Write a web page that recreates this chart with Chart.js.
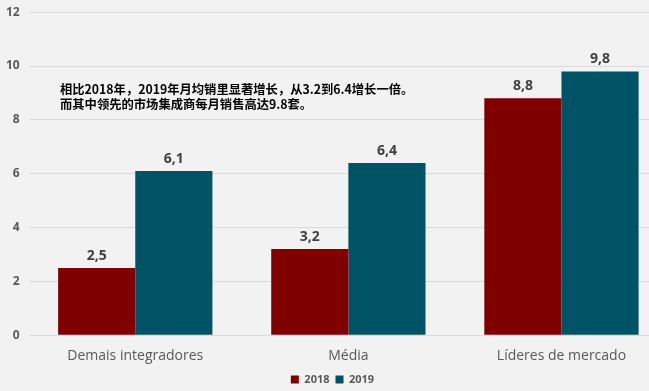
<!DOCTYPE html>
<html>
<head>
<meta charset="utf-8">
<script src="https://cdn.jsdelivr.net/npm/chart.js@4"></script>
<style>
  html, body { margin: 0; padding: 0; background: #f2f2f2; overflow: hidden; height: 391px; }
  #wrap { width: 668px; height: 399px; margin-top: -4px; }
</style>
</head>
<body>
<div id="wrap"><canvas id="myChart"></canvas></div>
<script>
const categories = ['Demais integradores', 'Média', 'Líderes de mercado'];
const values2018 = [2.5, 3.2, 8.8];
const values2019 = [6.1, 6.4, 9.8];
const yTicks = [0, 2, 4, 6, 8, 10, 12];
const note = [
    '相比2018年，2019年月均销里显著增长，从3.2到6.4增长一倍。',
    '而其中领先的市场集成商每月销售高达9.8套。'
];

const labelsPlugin = { // value labels + the note
    id: 'labelsPlugin',
    afterDatasetsDraw(chart) {
        const c = chart.ctx;
        c.save();
        c.font = 'bold 14px "Open Sans", sans-serif';
        c.fillStyle = '#404040';
        c.textAlign = 'center';
        c.textBaseline = 'bottom';
        chart.data.datasets.forEach((ds, i) => {
            chart.getDatasetMeta(i).data.forEach((bar, j) => {
                c.fillText(String(ds.data[j]).replace('.', ','), bar.x, bar.y - 5);
            });
        });
        c.font = 'bold 12.3px "Noto Sans CJK SC", sans-serif';
        c.fillStyle = '#000';
        c.textAlign = 'left';
        c.textBaseline = 'middle';
        note.forEach((t, k) => c.fillText(t, 60, 93 + k * 15));
        c.restore();
    }
};

const ctx = document.getElementById('myChart');
new Chart(ctx, {
    type: 'bar',
    data: {
        labels: categories,
        datasets: [
            { label: '2018', data: values2018, backgroundColor: '#7f0000' },
            { label: '2019', data: values2019, backgroundColor: '#005365' }
        ]
    },
    options: {
        responsive: true,
        maintainAspectRatio: false,
        animation: false,
        layout: { padding: { top: 0, right: 0, left: -3, bottom: 0 } },
        datasets: { bar: { barPercentage: 1, categoryPercentage: 0.724 } },
        scales: {
            x: {
                grid: { display: false },
                border: { display: false },
                ticks: { color: '#595959', font: { size: 14, family: '"Open Sans", sans-serif' }, padding: 4 }
            },
            y: {
                min: 0, max: 12,
                afterBuildTicks: (axis) => { axis.ticks = yTicks.map(v => ({ value: v })); },
                grid: { color: '#d9d9d9', drawTicks: false },
                border: { display: false },
                ticks: { color: '#595959', font: { size: 12, weight: 'bold', family: '"Open Sans", sans-serif' }, padding: 9 }
            }
        },
        plugins: {
            legend: {
                position: 'bottom',
                align: 'center',
                labels: {
                    boxWidth: 8, boxHeight: 8, padding: 6,
                    color: '#595959',
                    font: { size: 11, weight: 'bold', family: '"Open Sans", sans-serif' }
                }
            },
            tooltip: { enabled: false }
        }
    },
    plugins: [labelsPlugin]
});
</script>
</body>
</html>
